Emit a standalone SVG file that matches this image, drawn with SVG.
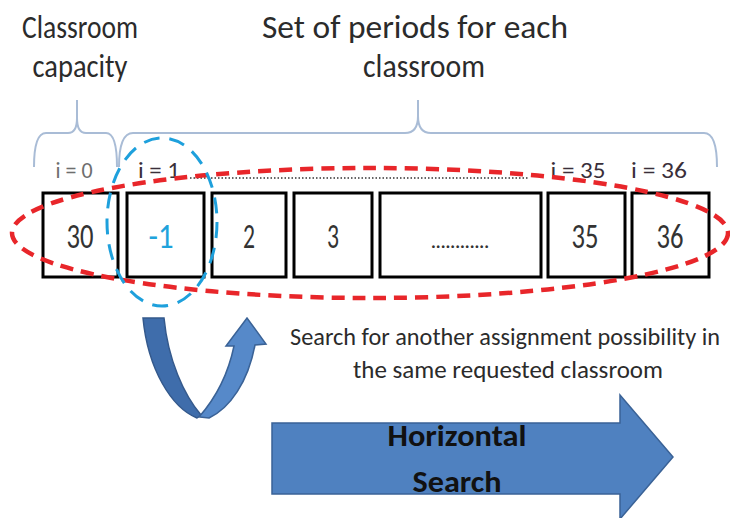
<svg xmlns="http://www.w3.org/2000/svg" width="730" height="518" viewBox="0 0 730 518">
<defs>
<style>
.t{font-family:"Carlito","Liberation Sans",Arial,sans-serif;fill:#2b2b2b;text-anchor:middle}
.big{font-size:32px}
.lab{font-size:23px;fill:#3a2f3a}
.num{font-size:35px;fill:#333}
.cap{font-size:24px}
.box{fill:#fff;stroke:#000;stroke-width:3}
.brace{fill:none;stroke:#a9bcd6;stroke-width:2}
</style>
</defs>
<rect width="730" height="518" fill="#fff"/>
<g id="titles">
<text class="t big" x="80" y="38" textLength="116" lengthAdjust="spacingAndGlyphs">Classroom</text>
<text class="t big" x="80" y="77" textLength="95" lengthAdjust="spacingAndGlyphs">capacity</text>
<text class="t big" x="415" y="38" textLength="306" lengthAdjust="spacingAndGlyphs">Set of periods for each</text>
<text class="t big" x="424" y="77" textLength="122" lengthAdjust="spacingAndGlyphs">classroom</text>
</g>
<g id="braces">
<path class="brace" d="M34,167 Q34,133 46,133 L68,133 Q77,133 77,118 L77,100 M77,118 Q77,133 86,133 L106,133 Q117,133 117,167"/>
<path class="brace" d="M119,167 Q119,133 133,133 L405,133 Q418,133 418,116 L418,100 M418,116 Q418,133 431,133 L704,133 Q717,133 717,167"/>
</g>
<g id="indices">
<text class="t lab" x="74" y="178" style="fill:#6e6e6e" textLength="37" lengthAdjust="spacingAndGlyphs">i = 0</text>
<text class="t lab" x="159" y="178" textLength="42" lengthAdjust="spacingAndGlyphs">i = 1</text>
<text class="t lab" x="578" y="178" textLength="55" lengthAdjust="spacingAndGlyphs">i = 35</text>
<text class="t lab" x="659" y="178" textLength="56" lengthAdjust="spacingAndGlyphs">i = 36</text>
<line x1="190" y1="178" x2="528" y2="178" stroke="#333" stroke-width="1.5" stroke-dasharray="1.5 2"/>
</g>
<g id="cells">
<rect class="box" x="43" y="193" width="75" height="84"/>
<rect class="box" x="127" y="193" width="77" height="84"/>
<rect class="box" x="212" y="193" width="74" height="84"/>
<rect class="box" x="294" y="193" width="78" height="84"/>
<rect class="box" x="380" y="193" width="161" height="84"/>
<rect class="box" x="548" y="193" width="77" height="84"/>
<rect class="box" x="632" y="193" width="77" height="84"/>
<text class="t num" x="80" y="248" textLength="27" lengthAdjust="spacingAndGlyphs">30</text>
<text class="t num" x="161" y="248" style="fill:#1fa3dc" textLength="25" lengthAdjust="spacingAndGlyphs">-1</text>
<text class="t num" x="249" y="248" textLength="12" lengthAdjust="spacingAndGlyphs">2</text>
<text class="t num" x="333" y="248" textLength="12" lengthAdjust="spacingAndGlyphs">3</text>
<text class="t" x="460" y="248" style="font-size:18px;font-weight:bold;fill:#333" textLength="58" lengthAdjust="spacingAndGlyphs">............</text>
<text class="t num" x="585" y="248" textLength="27" lengthAdjust="spacingAndGlyphs">35</text>
<text class="t num" x="670" y="248" textLength="27" lengthAdjust="spacingAndGlyphs">36</text>
</g>
<g id="highlights">
<ellipse cx="370" cy="233" rx="358" ry="65" fill="none" stroke="#e8262a" stroke-width="4.5" stroke-dasharray="13 8"/>
<ellipse cx="162" cy="222" rx="55" ry="84" fill="none" stroke="#1ea0dc" stroke-width="3" stroke-dasharray="16 10"/>
</g>
<g id="connectors">
<path d="M143,318 L164,318 C168,360 184,395 201,415 L197,418 C172,408 148,370 143,318 Z" fill="#3f6dab" stroke="#34598c" stroke-width="1.5"/>
<path d="M199,417 C214,400 228,375 234,346 L226,346 L247,318 L266,344 L255,345 C248,382 230,408 209,418 Z" fill="#5689c9" stroke="#3a6296" stroke-width="1.5"/>
<path d="M272,423 L620,423 L620,395 L673,457 L620,519 L620,494 L272,494 Z" fill="#4f81c0" stroke="#3a6296" stroke-width="1.5"/>
</g>
<g id="captions">
<text class="t cap" x="505" y="345" textLength="430" lengthAdjust="spacingAndGlyphs">Search for another assignment possibility in</text>
<text class="t cap" x="508" y="378" textLength="310" lengthAdjust="spacingAndGlyphs">the same requested classroom</text>
<text class="t" x="457" y="446" style="font-size:31px;font-weight:bold;fill:#111" textLength="139" lengthAdjust="spacingAndGlyphs">Horizontal</text>
<text class="t" x="457" y="492" style="font-size:31px;font-weight:bold;fill:#111" textLength="89" lengthAdjust="spacingAndGlyphs">Search</text>
</g>
</svg>
